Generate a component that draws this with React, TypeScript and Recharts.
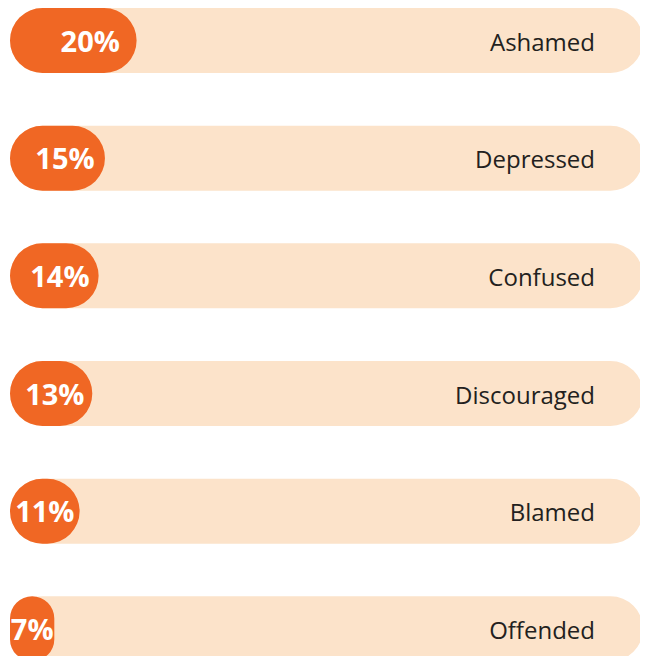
import { BarChart, Bar, XAxis, YAxis, LabelList } from "recharts"

const categories = ["Ashamed", "Depressed", "Confused", "Discouraged", "Blamed", "Offended"]
const shares = [20, 15, 14, 13, 11, 7]
const trackMax = 100

const data = categories.map((name, i) => ({ name, share: shares[i], track: trackMax }))

const ORANGE = "#F06724"
const PEACH = "#FCE3CA"

const NameLabel = (props: any) => {
  const { x, y, width, height, value } = props
  return (
    <text
      x={x + width - 48}
      y={y + height / 2 + 10}
      textAnchor="end"
      fill="#231F20"
      fontSize={24}
      fontFamily="'Open Sans', sans-serif"
    >
      {value}
    </text>
  )
}

const PctLabel = (props: any) => {
  const { x, y, width, height, value } = props
  const cx = x + width / 2 + Math.max(0, (width - 70) * 0.3)
  return (
    <text
      x={cx}
      y={y + height / 2 + 11}
      textAnchor="middle"
      fill="#fff"
      fontSize={29}
      fontWeight={700}
      fontFamily="'Open Sans', sans-serif"
    >
      {value}%
    </text>
  )
}

export default function App() {
  return (
    <div style={{ position: "relative", top: -26 }}>
      <BarChart
        width={641}
        height={706}
        data={data}
        layout="vertical"
        margin={{ top: 0, right: 6, left: 2, bottom: 0 }}
        barGap={-65}
      >
        <XAxis type="number" domain={[0, trackMax]} hide />
        <YAxis type="category" dataKey="name" hide />
        <Bar dataKey="track" fill={PEACH} barSize={65} radius={32.5} isAnimationActive={false}>
          <LabelList dataKey="name" content={NameLabel} />
        </Bar>
        <Bar dataKey="share" fill={ORANGE} barSize={65} radius={32.5} isAnimationActive={false}>
          <LabelList dataKey="share" content={PctLabel} />
        </Bar>
      </BarChart>
    </div>
  )
}
